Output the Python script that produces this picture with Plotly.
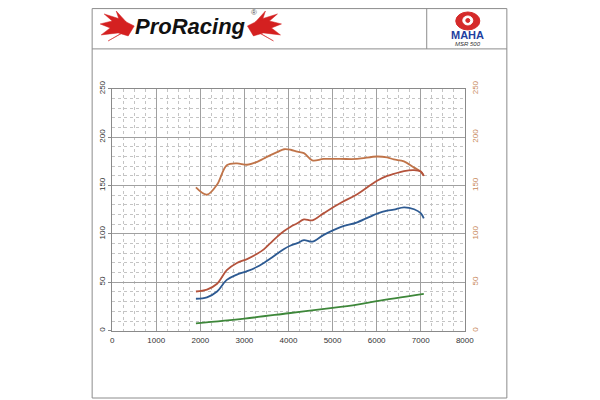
import plotly.graph_objects as go

# ---- data ----
rpm = [1900, 2150, 2380, 2600, 2830, 3060, 3290, 3440, 3590, 3740, 3900, 4050,
       4200, 4350, 4540, 4800, 5180, 5560, 6010, 6240, 6390, 6620, 6850, 7000, 7070]
torque = [148, 140.5, 151, 171, 173, 171.5, 174.5, 178, 181.5, 184.5, 187.5, 187,
          185, 183.5, 176, 177.5, 177.5, 177.5, 180, 179, 177, 175, 168.5, 164.5, 160]
power_red = [40.5, 42.5, 48.5, 62.5, 70, 74, 79.5, 84, 90.5, 97, 103, 107.5,
             111, 115, 114, 121.5, 132, 141, 155, 160, 162, 165, 166, 164.5, 160]
power_blue = [33, 34.5, 40.5, 52.5, 58, 61.5, 66, 70, 74.5, 79.5, 84.5, 88,
              90.5, 93.5, 92, 99, 107, 112, 121, 124, 125, 127.5, 125.5, 121.5, 116]
loss_rpm = [1900, 3000, 4000, 5000, 5560, 6000, 7070]
loss = [7.5, 12.5, 18, 23.5, 27, 30.5, 38]

x_ticks = [0, 1000, 2000, 3000, 4000, 5000, 6000, 7000, 8000]
y_ticks = [0, 50, 100, 150, 200, 250]

W, H = 600, 400
SC, OX, OY = 0.98, 2.0, 6.0
def px(x):
    return max(0.0, min(1.0, ((x - OX) / SC) / W))
def py(y):
    return max(0.0, min(1.0, 1 - ((y - OY) / SC) / H))

fig = go.Figure()
fig.add_trace(go.Scatter(x=rpm, y=torque, mode="lines", line=dict(color="#c07449", width=1.8, shape="spline")))
fig.add_trace(go.Scatter(x=rpm, y=power_red, mode="lines", line=dict(color="#b4533c", width=1.8, shape="spline")))
fig.add_trace(go.Scatter(x=rpm, y=power_blue, mode="lines", line=dict(color="#2d5a92", width=1.8, shape="spline")))
fig.add_trace(go.Scatter(x=loss_rpm, y=loss, mode="lines", line=dict(color="#3e873a", width=1.8, shape="spline")))
fig.add_trace(go.Scatter(x=[0], y=[0], yaxis="y2", mode="markers", marker=dict(opacity=0), hoverinfo="skip"))

grid_major = "#a0a0a0"
grid_minor = "#c4c4c4"
fnt = dict(family="Liberation Sans, Arial, sans-serif", size=8, color="#333333")

fig.update_layout(
    width=W, height=H, autosize=False,
    margin=dict(l=0, r=0, t=0, b=0),
    paper_bgcolor="white", plot_bgcolor="white",
    showlegend=False,
    xaxis=dict(domain=[px(112), px(464)], range=[0, 8000], tickvals=x_ticks,
               ticktext=[str(v) for v in x_ticks], tickfont=fnt,
               showgrid=True, gridcolor=grid_major, gridwidth=1,
               minor=dict(dtick=250, showgrid=True, gridcolor=grid_minor, griddash="3px,3px", gridwidth=1),
               showline=True, linecolor="#8a8a8a", mirror=True, zeroline=False,
               ticks="", ticklabelstandoff=2, fixedrange=True),
    yaxis=dict(domain=[py(329.5), py(87)], range=[0, 250], tickvals=y_ticks,
               ticktext=[str(v) for v in y_ticks], tickfont=fnt, tickangle=-90,
               showgrid=True, gridcolor=grid_major, gridwidth=1,
               minor=dict(dtick=10, showgrid=True, gridcolor=grid_minor, griddash="3px,3px", gridwidth=1),
               showline=True, linecolor="#8a8a8a", mirror=True, zeroline=False,
               ticks="outside", ticklen=3, tickcolor="#8a8a8a", fixedrange=True),
    yaxis2=dict(overlaying="y", side="right", range=[0, 250], tickvals=y_ticks,
                ticktext=[str(v) for v in y_ticks], tickangle=-90,
                tickfont=dict(family="Liberation Sans, Arial, sans-serif", size=8, color="#c8885a"),
                showgrid=False, zeroline=False, ticks="", ticklabelstandoff=4, fixedrange=True),
)

# ---- page frame & header ----
frame = dict(color="#8c8c8c", width=1)
fig.add_shape(type="rect", xref="paper", yref="paper", x0=px(92), x1=px(506), y0=py(397), y1=min(py(4), 0.9985), line=frame)
fig.add_shape(type="line", xref="paper", yref="paper", x0=px(92), x1=px(506), y0=py(47), y1=py(47), line=frame)
fig.add_shape(type="line", xref="paper", yref="paper", x0=px(426), x1=px(426), y0=min(py(4), 0.9985), y1=py(47), line=frame)

# ProRacing logo flames (decorative)
def P(x, y):
    return f"{px(x)},{py(y)}"
red = "#d42020"
def flame_set(cx, sgn):
    def X(d):
        return cx - sgn * d
    return [
        f"M {P(X(0),24)} L {P(X(14),17)} L {P(X(30),12)} L {P(X(22),19)} L {P(X(34),22)} "
        f"L {P(X(24),26)} L {P(X(33),33)} L {P(X(16),31)} L {P(X(6),34)} Z",
        f"M {P(X(8),20)} L {P(X(18),9)} L {P(X(15),18)} Z",
        f"M {P(X(10),30)} L {P(X(26),39)} L {P(X(14),32)} Z",
    ]
for p in flame_set(134, 1) + flame_set(247, -1):
    fig.add_shape(type="path", xref="paper", yref="paper", path=p, fillcolor=red, line=dict(color=red, width=0.5))

fig.add_annotation(x=px(190), y=py(25), xref="paper", yref="paper", xanchor="center", yanchor="middle",
                   text="<b><i>ProRacing</i></b>", showarrow=False,
                   font=dict(family="Liberation Sans, Arial", size=22, color="#111111"))
fig.add_annotation(x=px(254), y=py(11), xref="paper", yref="paper", xanchor="center", yanchor="middle",
                   text="®", showarrow=False,
                   font=dict(family="Liberation Sans, Arial", size=8, color="#555555"))

# MAHA logo
fig.add_shape(type="circle", xref="paper", yref="paper", x0=px(455), x1=px(479), y0=py(28), y1=py(10),
              fillcolor="#d52a2a", line=dict(color="#d52a2a", width=1))
fig.add_shape(type="circle", xref="paper", yref="paper", x0=px(462), x1=px(472), y0=py(23), y1=py(14),
              fillcolor="white", line=dict(color="white", width=1))
fig.add_shape(type="circle", xref="paper", yref="paper", x0=px(465), x1=px(469), y0=py(20.5), y1=py(16.5),
              fillcolor="#d52a2a", line=dict(color="#d52a2a", width=1))
fig.add_annotation(x=px(467), y=py(33), xref="paper", yref="paper", xanchor="center", yanchor="middle",
                   text="<b>MAHA</b>", showarrow=False,
                   font=dict(family="Liberation Sans, Arial", size=11, color="#1f3fa0"))
fig.add_annotation(x=px(467), y=py(42), xref="paper", yref="paper", xanchor="center", yanchor="middle",
                   text="<i>MSR 500</i>", showarrow=False,
                   font=dict(family="Liberation Sans, Arial", size=6, color="#333333"))

fig.write_html("out.html",
               config={"displayModeBar": False, "responsive": False},
               default_width="600px", default_height="400px",
               post_script="document.body.style.margin='0';document.body.style.overflow='hidden';")
